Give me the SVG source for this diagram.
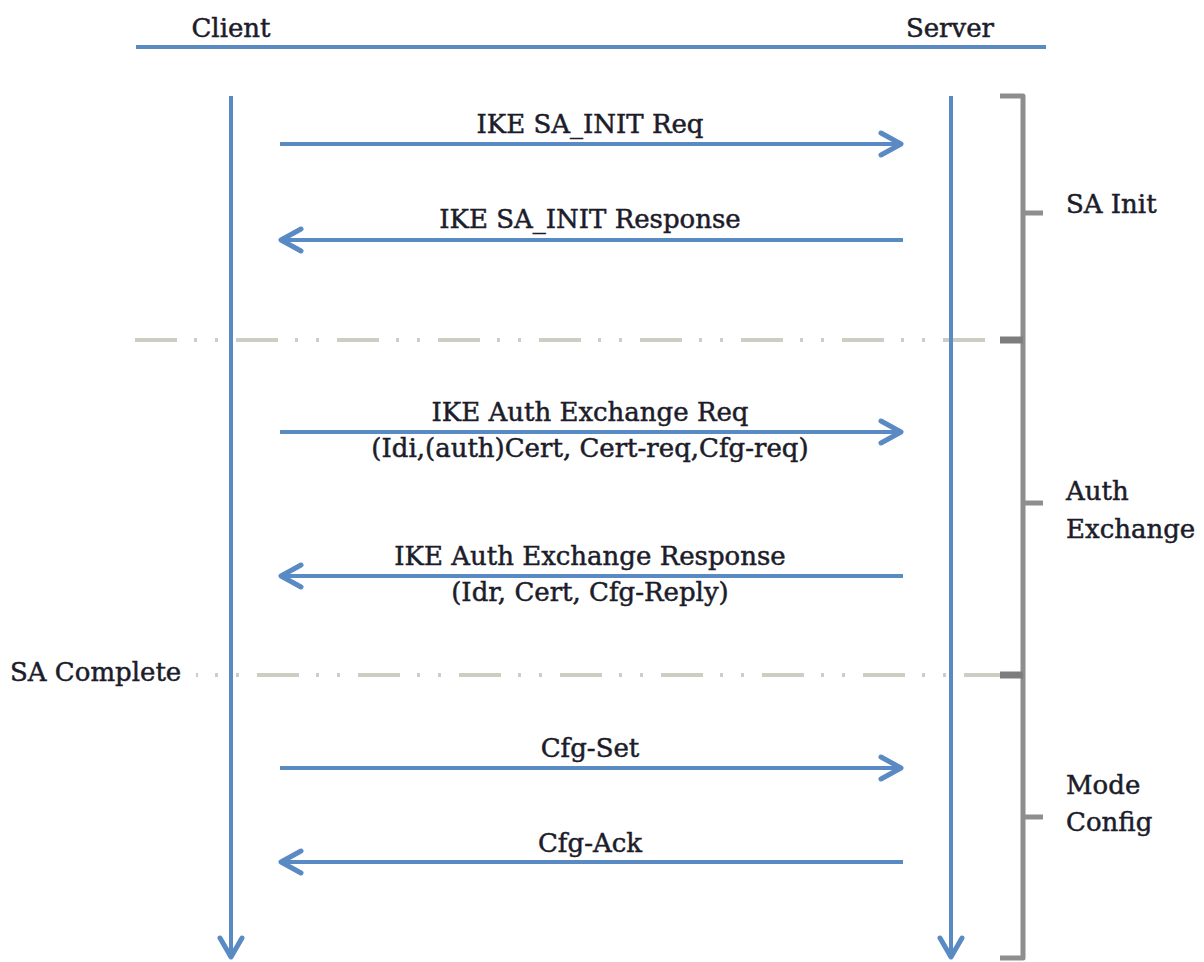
<svg xmlns="http://www.w3.org/2000/svg" width="1204" height="962" viewBox="0 0 1204 962">
<style>
.t{font-family:"DejaVu Serif","Liberation Serif",serif;font-size:26px;fill:#1c1c2a;stroke:#1c1c2a;stroke-width:0.5}
.m{text-anchor:middle}
.ln{stroke:#5a8ac4;stroke-width:4;fill:none}
.ah{stroke:#5a8ac4;stroke-width:5;fill:none;stroke-linecap:round;stroke-linejoin:round}
.sep{stroke:#cdcdc3;stroke-width:4;fill:none;stroke-dasharray:42 17 3 18 3 18}
.br{stroke:#8e8e8e;stroke-width:5;fill:none;stroke-linejoin:round}
.tk{stroke:#7d7d7d;stroke-width:7;fill:none}
</style>
<rect width="1204" height="962" fill="#ffffff"/>
<g id="header">
<line class="ln" x1="136" y1="47" x2="1046" y2="47"/>
<text class="t m" x="231" y="37">Client</text>
<text class="t m" x="950" y="37">Server</text>
</g>
<g id="separators">
<line class="sep" x1="135" y1="340" x2="1000" y2="340"/>
<line class="sep" x1="196" y1="675" x2="1000" y2="675" style="stroke-dashoffset:-61"/>
</g>
<g id="client">
<line class="ln" x1="231" y1="96" x2="231" y2="956"/>
<path class="ah" d="M220,938 L231,957 L242,938"/>
</g>
<g id="server">
<line class="ln" x1="951" y1="96" x2="951" y2="956"/>
<path class="ah" d="M940,938 L951,957 L962,938"/>
</g>
<g id="phases">
<path class="br" d="M1000,96 L1023,96 L1023,958 L1000,958"/>
<line class="tk" x1="1000" y1="340" x2="1023" y2="340"/>
<line class="tk" x1="1000" y1="675" x2="1023" y2="675"/>
<line class="br" x1="1023" y1="213" x2="1043" y2="213"/>
<line class="br" x1="1023" y1="503" x2="1043" y2="503"/>
<line class="br" x1="1023" y1="817" x2="1043" y2="817"/>
<text class="t" x="1066" y="213">SA Init</text>
<text class="t" x="1066" y="500">Auth</text>
<text class="t" x="1066" y="538">Exchange</text>
<text class="t" x="1066" y="794">Mode</text>
<text class="t" x="1066" y="831">Config</text>
</g>
<g id="sa-complete">
<text class="t" x="10" y="681">SA Complete</text>
</g>
<g id="connectors">
<line class="ln" x1="280" y1="144" x2="900" y2="144"/>
<path class="ah" d="M881,133 L901,144 L881,155"/>
<line class="ln" x1="282" y1="240" x2="903" y2="240"/>
<path class="ah" d="M301,229 L281,240 L301,251"/>
<line class="ln" x1="280" y1="432" x2="900" y2="432"/>
<path class="ah" d="M881,421 L901,432 L881,443"/>
<line class="ln" x1="282" y1="576" x2="903" y2="576"/>
<path class="ah" d="M301,565 L281,576 L301,587"/>
<line class="ln" x1="280" y1="768" x2="900" y2="768"/>
<path class="ah" d="M881,757 L901,768 L881,779"/>
<line class="ln" x1="282" y1="862" x2="903" y2="862"/>
<path class="ah" d="M301,851 L281,862 L301,873"/>
</g>
<g id="labels">
<text class="t m" x="590" y="133">IKE SA_INIT Req</text>
<text class="t m" x="590" y="228">IKE SA_INIT Response</text>
<text class="t m" x="590" y="421">IKE Auth Exchange Req</text>
<text class="t m" x="590" y="457">(Idi,(auth)Cert, Cert-req,Cfg-req)</text>
<text class="t m" x="590" y="565">IKE Auth Exchange Response</text>
<text class="t m" x="590" y="601">(Idr, Cert, Cfg-Reply)</text>
<text class="t m" x="590" y="757">Cfg-Set</text>
<text class="t m" x="590" y="852">Cfg-Ack</text>
</g>
</svg>
